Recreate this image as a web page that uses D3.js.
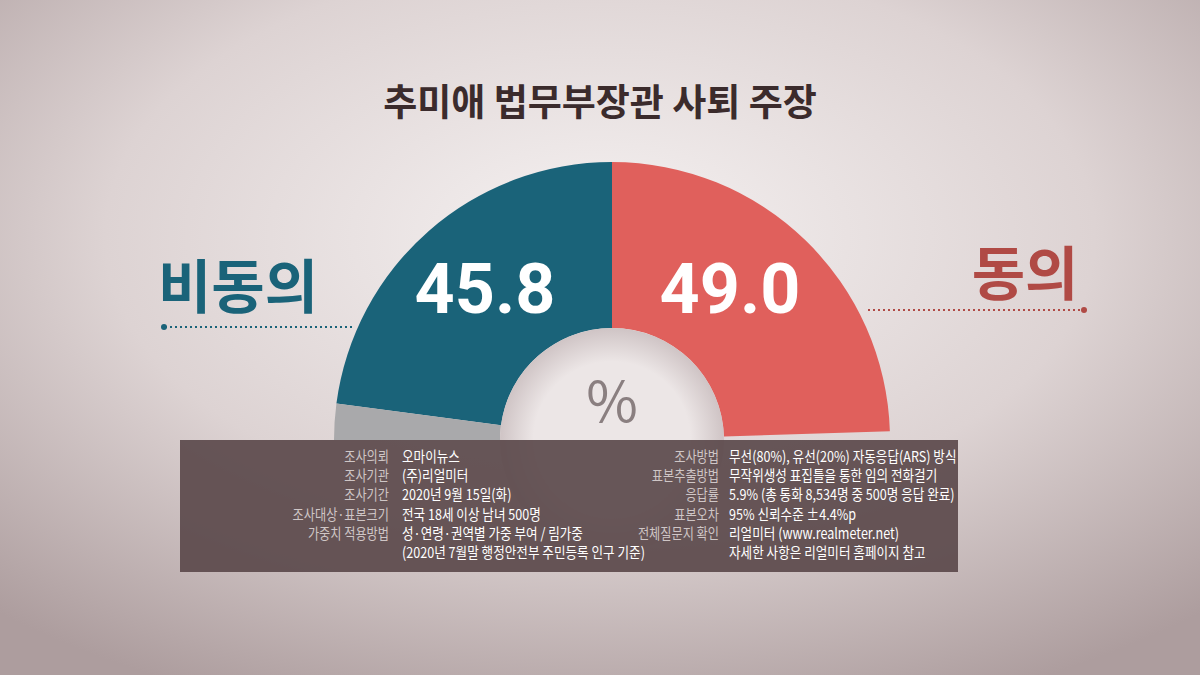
<!DOCTYPE html>
<html><head><meta charset="utf-8">
<script src="https://cdn.jsdelivr.net/npm/d3@7"></script>
<style>body{margin:0;}svg{display:block;font-family:"Noto Sans CJK KR","Noto Sans",sans-serif;}</style>
</head><body>
<svg id="c" width="1200" height="675"></svg>
<script>
const title = "추미애 법무부장관 사퇴 주장";
const categories = ["동의", "비동의", "기타"];
const values = [49.0, 45.8, 5.2];
const colors = ["#e0605c", "#1a6379", "#a9a9ab"];
const leftLabels = ["조사의뢰","조사기관","조사기간","조사대상·표본크기","가중치 적용방법",""];
const leftValues = ["오마이뉴스","(주)리얼미터","2020년 9월 15일(화)","전국 18세 이상 남녀 500명","성·연령·권역별 가중 부여 / 림가중","(2020년 7월말 행정안전부 주민등록 인구 기준)"];
const rightLabels = ["조사방법","표본추출방법","응답률","표본오차","전체질문지 확인",""];
const rightValues = ["무선(80%), 유선(20%) 자동응답(ARS) 방식","무작위생성 표집틀을 통한 임의 전화걸기","5.9% (총 통화  8,534명 중 500명 응답 완료)","95% 신뢰수준 ±4.4%p","리얼미터 (www.realmeter.net)","자세한 사항은 리얼미터 홈페이지  참고"];

const svg = d3.select("#c");
const defs = svg.append("defs");
const rg = defs.append("radialGradient").attr("id","bg").attr("cx","50%").attr("cy","35%").attr("r","75%");
rg.append("stop").attr("offset","0%").attr("stop-color","#f5f1f1");
rg.append("stop").attr("offset","55%").attr("stop-color","#ddd3d3");
rg.append("stop").attr("offset","100%").attr("stop-color","#ad9d9e");
svg.append("rect").attr("width",1200).attr("height",675).attr("fill","url(#bg)");
const ig = defs.append("radialGradient").attr("id","inner");
ig.append("stop").attr("offset","70%").attr("stop-color","#ece6e6");
ig.append("stop").attr("offset","100%").attr("stop-color","#cfc4c5");

svg.append("text").attr("x",600).attr("y",116).attr("text-anchor","middle")
  .attr("font-size",37).attr("font-weight",700).attr("fill","#3b2b2c").text(title);

const cx=612, cy=440, R=278, r=112;
const g = svg.append("g").attr("transform",`translate(${cx},${cy})`);
const scale = d3.scaleLinear().domain([0,100]).range([0,Math.PI]);
const arc = d3.arc().innerRadius(r).outerRadius(R);
const segs = [
  {s:0, e:scale(values[0]), c:colors[0]},
  {s:-scale(values[1]), e:0, c:colors[1]},
  {s:-Math.PI/2, e:-scale(values[1]), c:colors[2]}
];
g.selectAll("path").data(segs).join("path")
  .attr("d",d=>arc({startAngle:d.s,endAngle:d.e})).attr("fill",d=>d.c);
g.append("circle").attr("r",r).attr("fill","url(#inner)");
g.append("text").attr("y",-18).attr("text-anchor","middle").attr("font-size",56)
  .attr("fill","#8a7f80").text("%");

const numPos = [{x:730,v:values[0]},{x:485,v:values[1]}];
svg.selectAll("text.num").data(numPos).join("text").attr("class","num")
  .attr("x",d=>d.x).attr("y",313).attr("text-anchor","middle")
  .attr("font-size",70).attr("font-weight",700).attr("fill","#fff")
  .attr("font-family","Roboto,'Noto Sans',sans-serif")
  .text(d=>d.v.toFixed(1));

svg.append("text").attr("x",238).attr("y",308).attr("text-anchor","middle")
  .attr("font-size",58).attr("font-weight",700).attr("fill","#1a6379").text(categories[1]);
svg.append("text").attr("x",1025).attr("y",295).attr("text-anchor","middle")
  .attr("font-size",58).attr("font-weight",700).attr("fill","#b04a45").text(categories[0]);
svg.append("line").attr("x1",165).attr("x2",352).attr("y1",327).attr("y2",327)
  .attr("stroke","#1a6379").attr("stroke-width",2).attr("stroke-dasharray","2,3");
svg.append("circle").attr("cx",164).attr("cy",327).attr("r",3).attr("fill","#1a6379");
svg.append("line").attr("x1",868).attr("x2",1083).attr("y1",310).attr("y2",310)
  .attr("stroke","#b04a45").attr("stroke-width",2).attr("stroke-dasharray","2,3");
svg.append("circle").attr("cx",1084).attr("cy",310).attr("r",3).attr("fill","#b04a45");

svg.append("rect").attr("x",180).attr("y",440).attr("width",778).attr("height",132)
  .attr("fill","rgba(92,74,76,0.93)");
const rowY = i => 462 + i*19.2;
const sx = 0.84;
function col(labels, vals, lx, vx){
  svg.selectAll(null).data(labels).join("text")
    .attr("transform",(d,i)=>`translate(${lx},${rowY(i)}) scale(${sx},1)`)
    .attr("text-anchor","end").attr("font-size",14.5).attr("fill","#cfc6c6").text(d=>d);
  svg.selectAll(null).data(vals).join("text")
    .attr("transform",(d,i)=>`translate(${vx},${rowY(i)}) scale(${sx},1)`)
    .attr("font-size",15).attr("fill","#fff").text(d=>d);
}
col(leftLabels,leftValues,389,402);
col(rightLabels,rightValues,719,729);
</script>
</body></html>
